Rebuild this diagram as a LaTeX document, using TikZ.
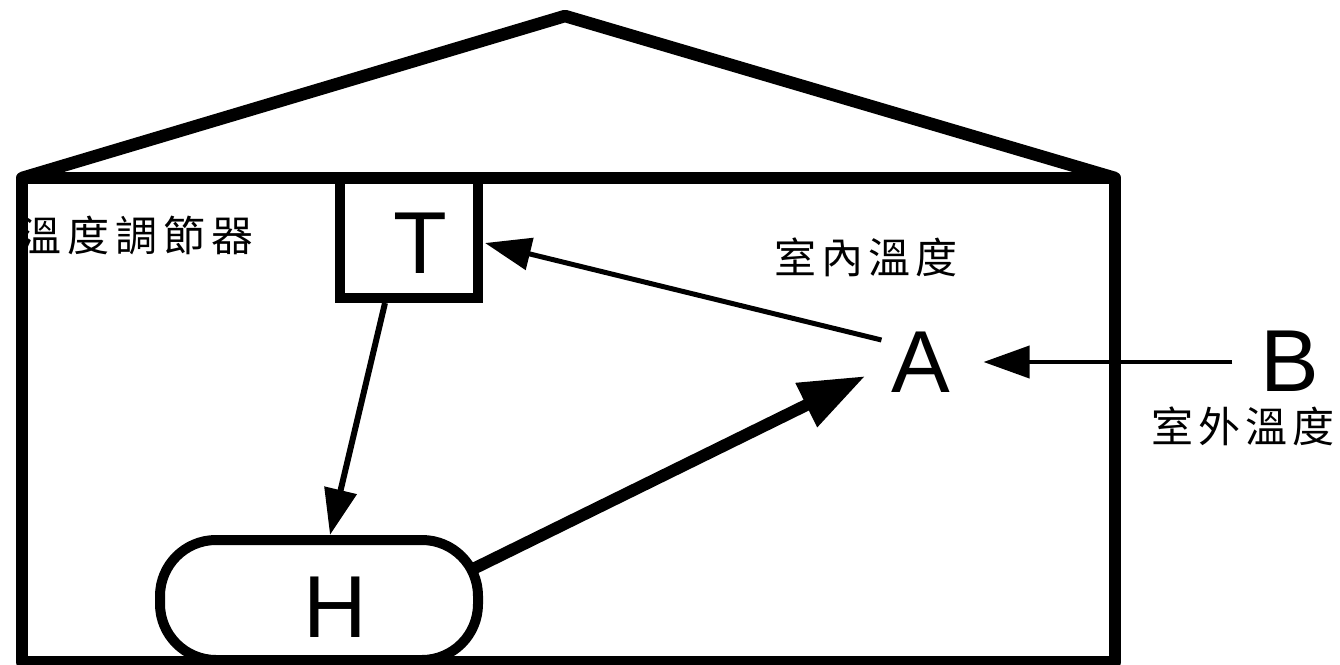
\documentclass[tikz,border=0pt]{standalone}
\usepackage{fontspec}
\setmainfont{Liberation Sans}
\newfontfamily\cjk{Noto Sans CJK TC}
\usetikzlibrary{arrows.meta,calc}
\begin{document}
\begin{tikzpicture}[x=1pt,y=-1pt,
  housewall/.style={line width=12.5pt,line join=round},
  glyph/.style={font=\fontsize{88}{88}\selectfont,inner sep=0pt},
  cjklabel/.style={font=\cjk\fontsize{42}{42}\selectfont,inner sep=0pt},
  conn/.style={line width=#1},
  tipsmall/.style={-{Triangle[length=46pt,width=32pt]}},
  tipbig/.style={-{Triangle[length=66pt,width=46pt]}}]
\useasboundingbox (0,0) rectangle (1340,664);

% house: roof and walls
\draw[housewall] (22,178) -- (565,16) -- (1115,178);
\draw[housewall] (22,178) rectangle (1115,662);

% thermostat box and heater
\node[draw,line width=10pt,minimum width=138pt,minimum height=121pt,glyph]
  (T) at (409,237.5) {\hspace{23pt}T\rule{0pt}{71pt}};
\node[draw,line width=10pt,rounded corners=56pt,minimum width=318pt,minimum height=120pt,glyph]
  (H) at (319,600) {\hspace{32pt}H\rule{0pt}{75pt}};

% temperatures
\node[glyph] (A) at (921,362) {A};
\node[glyph] (B) at (1290,361) {B};

% labels
\node[cjklabel] (ctl) at (136.5,235) {溫\hspace{6pt}度\hspace{6pt}調\hspace{6pt}節\hspace{6pt}器};
\node[cjklabel] (inner) at (866,257.5) {室\hspace{5pt}內\hspace{5pt}溫\hspace{5pt}度};
\node[cjklabel] (outer) at (1243,426.5) {室\hspace{5pt}外\hspace{5pt}溫\hspace{5pt}度};

% signal flow
\draw[conn=5pt,tipsmall] ($(A.west)+(-10,-22)$) -- ($(T.east)+(2,5.5)$);
\draw[conn=6pt,tipsmall] ($(T.south)+(-24,0)$) -- ($(H.north)+(11,0)$);
\draw[conn=12pt,tipbig] ($(H.east)+(-8,-32)$) -- ($(A.west)+(-26,14)$);
\draw[conn=4pt,tipsmall] ($(B.west)+(-28,1)$) -- ($(A.east)+(33,0)$);
\end{tikzpicture}
\end{document}
